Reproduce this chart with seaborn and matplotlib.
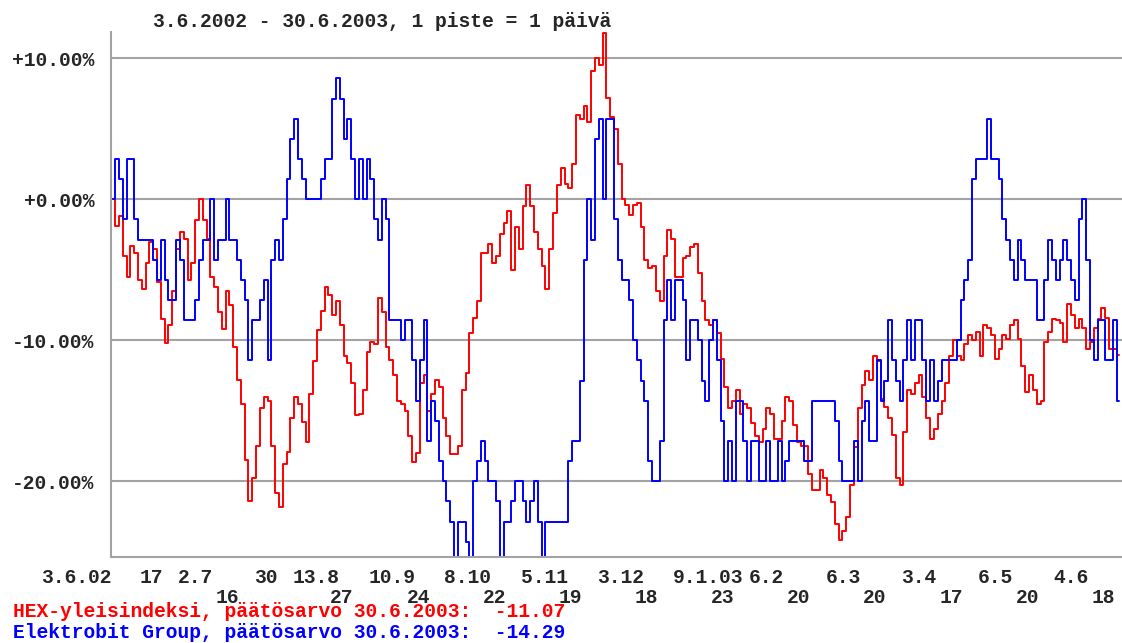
import matplotlib
matplotlib.use('Agg')
import matplotlib.pyplot as plt
import numpy as np
import pandas as pd
import seaborn as sns

# chart texts
title = '3.6.2002 - 30.6.2003, 1 piste = 1 päivä'
series_names = ['HEX-yleisindeksi', 'Elektrobit Group']
final_values = [-11.07, -14.29]
end_date = '30.6.2003'

# daily change from 3.6.2002, percent
hex_index = [
    0, -1.9, -1.2, -4.0, -5.5, -3.3, -3.8, -5.7, -6.4, -4.5,
    -3.0, -3.5, -5.9, -8.5, -10.2, -8.9, -6.5, -3.5, -2.3, -2.8,
    -5.7, -4.5, -1.5, 0.0, -1.5, -2.8, -5.5, -6.2, -8.0, -9.2,
    -6.5, -7.5, -10.5, -12.8, -14.5, -18.5, -21.4, -19.8, -17.5, -14.8,
    -14.0, -14.3, -17.5, -20.8, -21.8, -18.8, -17.9, -15.5, -14.0, -14.5,
    -15.8, -17.2, -13.8, -11.5, -9.3, -7.9, -6.2, -6.8, -8.2, -7.2,
    -8.9, -11.1, -11.6, -13.0, -15.3, -15.2, -13.5, -10.8, -10.1, -10.3,
    -7.0, -8.0, -10.5, -11.4, -12.5, -14.3, -14.5, -15.0, -16.8, -18.6,
    -18.0, -13.0, -12.5, -15.0, -13.8, -12.8, -13.3, -15.5, -16.8, -18.1,
    -18.1, -17.5, -13.5, -12.3, -9.5, -8.4, -7.2, -3.8, -3.8, -3.2,
    -4.5, -4.0, -2.5, -1.7, -0.85, -5.0, -2.0, -3.5, -0.5, 1.0,
    -0.5, -2.3, -3.5, -4.7, -6.4, -3.5, -1.0, 1.0, 2.2, 1.1,
    0.8, 2.5, 6.0, 5.7, 6.6, 5.5, 9.1, 10.0, 9.5, 11.8,
    7.2, 5.8, 5.0, 2.5, 0.0, -0.4, -1.1, -0.4, -0.3, -2.0,
    -4.3, -4.9, -4.7, -6.5, -7.2, -4.0, -2.2, -2.8, -5.5, -5.5,
    -4.2, -4.0, -3.4, -3.2, -5.2, -7.2, -8.6, -8.9, -8.6, -9.5,
    -11.3, -13.3, -14.8, -14.3, -13.5, -15.2, -14.5, -14.8, -15.9, -16.8,
    -17.2, -16.3, -14.8, -15.2, -17.0, -17.0, -15.7, -14.0, -14.3, -16.0,
    -17.2, -17.5, -17.5, -19.5, -20.6, -20.6, -19.2, -19.8, -21.0, -21.5,
    -23.0, -24.2, -23.5, -22.5, -20.3, -17.6, -14.8, -13.2, -12.2, -12.8,
    -11.1, -11.5, -14.2, -14.7, -15.5, -16.7, -19.8, -20.3, -16.5, -13.5,
    -13.8, -13.0, -12.5, -14.0, -15.5, -17.0, -16.3, -15.2, -14.3, -13.0,
    -11.1, -10.0, -11.1, -11.4, -10.3, -9.6, -10.0, -9.4, -11.1, -8.9,
    -9.1, -9.6, -11.3, -10.6, -9.6, -9.9, -8.9, -8.6, -9.9, -11.8,
    -13.7, -12.5, -13.5, -14.5, -14.3, -10.1, -9.4, -8.5, -8.6, -8.8,
    -10.1, -7.4, -8.2, -9.1, -8.5, -9.1, -10.6, -10.1, -9.1, -8.5,
    -7.7, -8.4, -10.6, -10.6, -11.07,
]

elektrobit = [
    0, 2.86, 1.43, -1.43, 2.86, 2.86, -1.43, -2.86, -2.86, -2.86,
    -2.86, -4.29, -5.71, -2.86, -5.71, -7.14, -7.14, -2.86, -4.29, -8.57,
    -8.57, -8.57, -7.14, -4.29, -2.86, -2.86, 0, -4.29, -2.86, -2.86,
    0, -2.86, -2.86, -4.29, -5.71, -7.14, -11.43, -8.57, -8.57, -7.14,
    -5.71, -11.43, -4.29, -2.86, -4.29, -1.43, 1.43, 4.29, 5.71, 2.86,
    1.43, 0, 0, 0, 0, 1.43, 2.86, 2.86, 7.14, 8.57,
    7.14, 4.29, 5.71, 2.86, 0, 2.86, 0, 2.86, 1.43, -1.43,
    -2.86, 0, -1.43, -8.57, -8.57, -8.57, -10.0, -8.57, -8.57, -11.43,
    -14.29, -11.43, -8.57, -17.14, -14.29, -15.71, -18.57, -20.0, -21.43, -22.86,
    -25.71, -22.86, -22.86, -24.29, -25.71, -20.0, -18.57, -17.14, -18.57, -20.0,
    -20.0, -21.43, -25.71, -22.86, -22.86, -21.43, -20.0, -20.0, -21.43, -22.86,
    -21.43, -20.0, -22.86, -25.71, -22.86, -22.86, -22.86, -22.86, -22.86, -22.86,
    -18.57, -17.14, -17.14, -12.86, -4.29, 0, -2.86, 4.29, 5.71, 0,
    5.71, 5.71, -1.43, -4.29, -5.71, -5.71, -7.14, -10.0, -11.43, -12.86,
    -14.29, -18.57, -20.0, -20.0, -17.14, -8.57, -5.71, -8.57, -5.71, -5.71,
    -7.14, -11.43, -8.57, -8.57, -10.0, -12.86, -14.29, -10.0, -8.57, -11.43,
    -15.71, -20.0, -17.14, -20.0, -14.29, -14.29, -17.14, -20.0, -17.14, -17.14,
    -20.0, -20.0, -17.14, -20.0, -20.0, -17.14, -20.0, -18.57, -17.14, -17.14,
    -17.14, -17.14, -18.57, -18.57, -14.29, -14.29, -14.29, -14.29, -14.29, -14.29,
    -15.71, -18.57, -20.0, -20.0, -20.0, -17.14, -20.0, -15.71, -14.29, -17.14,
    -17.14, -11.43, -14.29, -12.86, -8.57, -11.43, -12.86, -14.29, -11.43, -8.57,
    -11.43, -8.57, -8.57, -11.43, -14.29, -11.43, -14.29, -12.86, -11.43, -11.43,
    -11.43, -11.43, -10.0, -7.14, -5.71, -4.29, 1.43, 2.86, 2.86, 2.86,
    5.71, 2.86, 2.86, 1.43, -1.43, -2.86, -4.29, -5.71, -2.86, -4.29,
    -5.71, -5.71, -5.71, -8.57, -8.57, -5.71, -2.86, -4.29, -5.71, -4.29,
    -2.86, -4.29, -5.71, -7.14, -1.43, 0, -4.29, -10.0, -11.43, -8.57,
    -8.57, -11.43, -11.43, -8.57, -14.29,
]

# x ticks every 10 trading days, labels in two rows
tick_labels = ['3.6.02', '17', '2.7', '16', '30', '13.8', '27', '10.9', '24',
               '8.10', '22', '5.11', '19', '3.12', '18', '9.1.03', '23', '6.2',
               '20', '6.3', '20', '3.4', '17', '6.5', '20', '4.6', '18']
tick_rows = [1, 1, 1, 2, 1, 1, 2, 1, 2, 1, 2, 1, 2, 1, 2, 1, 2, 1,
             2, 1, 2, 1, 2, 1, 2, 1, 2]
ytick_values = [10, 0, -10, -20]
ytick_labels = ['+10.00%', '+0.00%', '-10.00%', '-20.00%']

assert len(hex_index) == len(elektrobit)

df = pd.DataFrame({'day': np.arange(len(hex_index)),
                   'hex': hex_index, 'ebg': elektrobit})

sns.set_style('white')
plt.rcParams['font.family'] = ['Liberation Mono', 'DejaVu Sans Mono']
fsize = 14.1
fweight = 'bold'
gray = '#a3a3a3'

fig = plt.figure(figsize=(11.22, 6.43), dpi=100)
W, H = 1122, 643
ax = fig.add_axes([111 / W, (H - 556.7) / H, 1 - 111 / W, (556.7 - 31.7) / H])

sns.lineplot(data=df, x='day', y='hex', ax=ax, color='#ff0000', lw=1.4,
             drawstyle='steps-mid', legend=False)
sns.lineplot(data=df, x='day', y='ebg', ax=ax, color='#0000ff', lw=1.4,
             drawstyle='steps-mid', legend=False)

ax.set_xlim(-0.6, 264.9)
ax.set_ylim(-25.35, 11.88)
ax.set_xlabel('')
ax.set_ylabel('')

ax.set_yticks(ytick_values, labels=ytick_labels)
for t in ax.get_yticklabels():
    t.set_fontweight(fweight)
ax.yaxis.grid(True, color=gray, lw=1.5)
ax.set_axisbelow(True)
ax.tick_params(axis='y', length=4.5, width=1.1, color=gray, pad=7.5,
               labelsize=fsize)

ax.set_xticks(np.arange(0, 10 * len(tick_labels), 10))
ax.tick_params(axis='x', length=3, width=1.1, color=gray, labelbottom=False)

for side in ['top', 'right']:
    ax.spines[side].set_visible(False)
for side in ['left', 'bottom']:
    ax.spines[side].set_color(gray)
    ax.spines[side].set_linewidth(1.5)

# date labels under the axis
for k, (lab, row) in enumerate(zip(tick_labels, tick_rows)):
    dy = -26.6 if row == 1 else -46.6
    if k == 0:
        ax.annotate(lab, xy=(0, 0), xycoords=('data', 'axes fraction'),
                    xytext=(-1.6, dy), textcoords='offset pixels',
                    ha='right', va='baseline', fontsize=fsize, fontweight=fweight)
    else:
        ax.annotate(lab, xy=(10 * k, 0), xycoords=('data', 'axes fraction'),
                    xytext=(-11.5, dy), textcoords='offset pixels',
                    ha='left', va='baseline', fontsize=fsize, fontweight=fweight)

fig.text(152.7 / W, 1 - 27.3 / H, title, ha='left', va='baseline',
         fontsize=fsize, fontweight=fweight)

for name, val, col, yb in zip(series_names, final_values,
                              ['#ff0000', '#0000ff'], [616.7, 637.7]):
    fig.text(13.3 / W, 1 - yb / H, f'{name}, päätösarvo {end_date}:  {val:.2f}',
             ha='left', va='baseline', color=col, fontsize=fsize,
             fontweight=fweight)

fig.savefig('out.png', dpi=100)
